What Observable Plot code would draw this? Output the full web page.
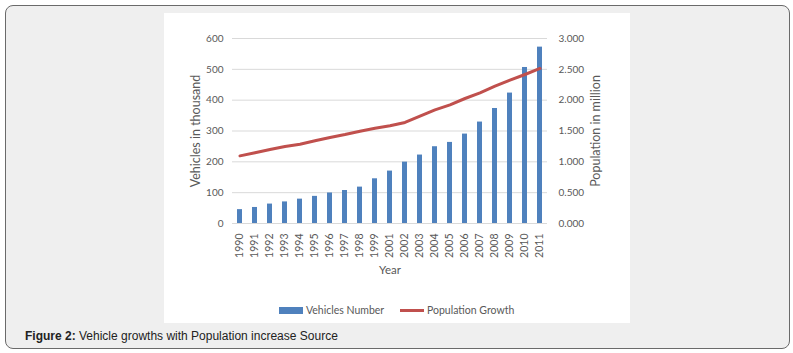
<!DOCTYPE html>
<html>
<head>
<meta charset="utf-8">
<script src="https://cdn.jsdelivr.net/npm/d3@7"></script>
<script src="https://cdn.jsdelivr.net/npm/@observablehq/plot@0.6"></script>
<style>
  html, body { margin: 0; padding: 0; background: #ffffff; }
  body { width: 793px; height: 353px; position: relative; overflow: hidden; }
  #frame {
    position: absolute; left: 5px; top: 5px; width: 783px; height: 342px;
    border: 1px solid #6a6a6a; border-radius: 8px; background: #efefef;
  }
  #panel {
    position: absolute; left: 164px; top: 13px; width: 466px; height: 310px;
    background: #ffffff;
  }
  #chart { position: absolute; left: 0; top: 0; }
  #legend {
    position: absolute; left: 0; top: 289px; width: 466px; height: 16px;
    font-family: Lato, sans-serif; font-size: 10.5px; color: #595959;
  }
  .item { position: absolute; top: 0; display: flex; align-items: center; height: 16px; }
  .sw-bar { width: 24px; height: 7px; background: #4f81bd; margin-right: 3px; }
  .sw-line { width: 24px; height: 3px; background: #c0504d; margin-right: 3px; }
  #caption {
    position: absolute; left: 25px; top: 329px;
    font-family: "Liberation Sans", Arial, sans-serif; font-size: 12px; color: #222;
  }
</style>
</head>
<body>
<div id="frame"></div>
<div id="panel">
  <div id="chart"></div>
  <div id="legend">
    <div class="item" style="left:115px"><div class="sw-bar"></div><span>Vehicles Number</span></div>
    <div class="item" style="left:236px"><div class="sw-line"></div><span>Population Growth</span></div>
  </div>
</div>
<div id="caption"><b>Figure 2:</b> Vehicle growths with Population increase Source</div>
<script>
const years = ["1990","1991","1992","1993","1994","1995","1996","1997","1998","1999",
               "2001","2002","2003","2004","2005","2006","2007","2008","2009","2010","2011"];
const vehicles = [45, 52, 63, 70, 79, 88, 99, 107, 118, 145,
                  170, 199, 222, 249, 263, 290, 329, 373, 423, 506, 572];
const population = [1.097, 1.146, 1.200, 1.249, 1.286, 1.341, 1.395, 1.443, 1.497, 1.546,
                    1.584, 1.638, 1.741, 1.843, 1.924, 2.027, 2.119, 2.227, 2.324, 2.416, 2.514];
const vehicleTicks = [0, 100, 200, 300, 400, 500, 600];
const popTickLabels = ["0.000", "0.500", "1.000", "1.500", "2.000", "2.500", "3.000"];
const vehMax = 600, popMax = 3;
const k = vehMax / popMax;

const data = years.map((year, i) => ({year, vehicles: vehicles[i], pop: population[i]}));

const plot = Plot.plot({
  width: 466,
  height: 290,
  marginLeft: 68,
  marginRight: 83,
  marginTop: 25,
  marginBottom: 80,
  style: {fontFamily: "Lato, sans-serif", fontSize: "10px", color: "#595959", background: "transparent"},
  x: {type: "band", domain: years, paddingInner: 0.67, paddingOuter: 0.335},
  y: {domain: [0, vehMax]},
  marks: [
    Plot.gridY(vehicleTicks, {stroke: "#d9d9d9", strokeOpacity: 1}),
    Plot.barY(data, {x: "year", y: "vehicles", fill: "#4f81bd"}),
    Plot.line(data, {x: "year", y: d => d.pop * k, stroke: "#c0504d", strokeWidth: 3}),
    Plot.axisY(vehicleTicks, {anchor: "left", tickSize: 0, tickPadding: 9, label: null}),
    Plot.axisY(vehicleTicks, {anchor: "right", tickSize: 0, tickPadding: 11, label: null,
      tickFormat: (d, i) => popTickLabels[vehicleTicks.indexOf(d)]}),
    Plot.axisX({tickSize: 0, tickPadding: 10, tickRotate: -90, label: null, fontSize: 10.5}),
    Plot.text(["Year"], {text: d => d, frameAnchor: "bottom", dy: 50, fontSize: 11.5, fill: "#595959"}),
    Plot.text(["Vehicles in thousand"], {text: d => d, frameAnchor: "left", textAnchor: "middle", dx: -37, rotate: -90, fontSize: 12.5, fill: "#595959"}),
    Plot.text(["Population in million"], {text: d => d, frameAnchor: "right", textAnchor: "middle", dx: 48, rotate: -90, fontSize: 12.5, fill: "#595959"})
  ]
});
document.getElementById("chart").appendChild(plot);
</script>
</body>
</html>
